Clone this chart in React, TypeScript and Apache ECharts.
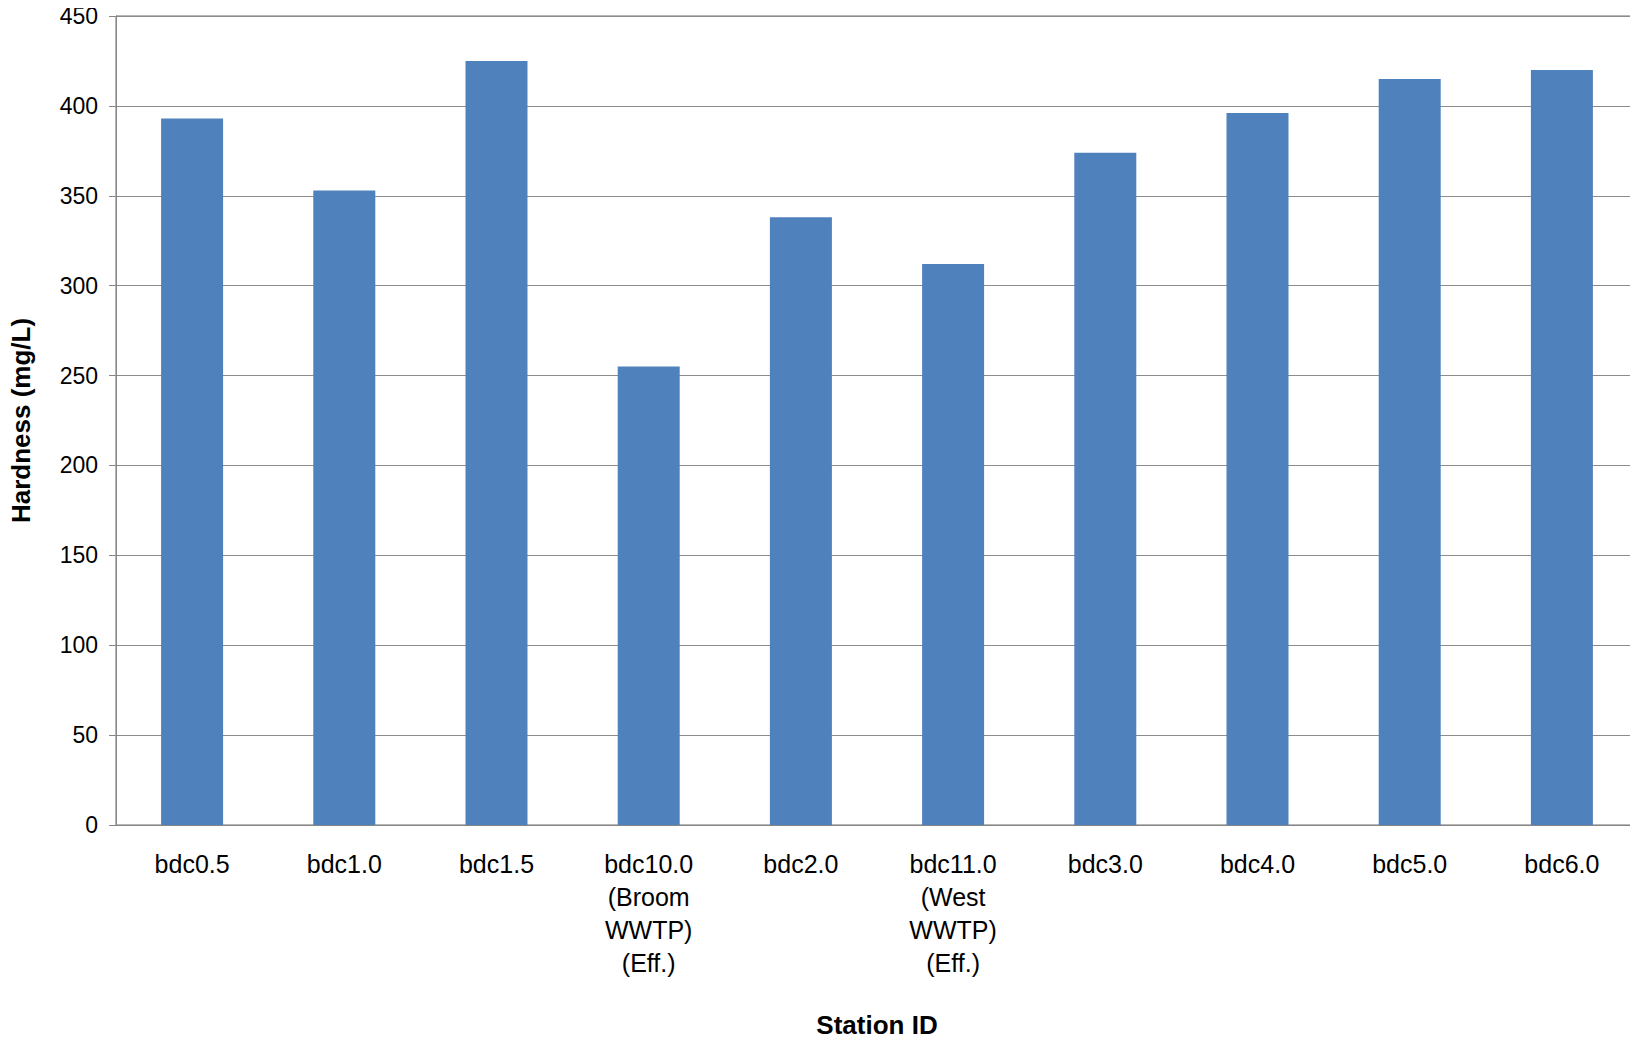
import { useEffect, useRef } from 'react';
import * as echarts from 'echarts';

const categories = [
  'bdc0.5',
  'bdc1.0',
  'bdc1.5',
  'bdc10.0\n(Broom\nWWTP)\n(Eff.)',
  'bdc2.0',
  'bdc11.0\n(West\nWWTP)\n(Eff.)',
  'bdc3.0',
  'bdc4.0',
  'bdc5.0',
  'bdc6.0',
];
const hardness = [393, 353, 425, 255, 338, 312, 374, 396, 415, 420];

export default function App() {
  const chartRef = useRef<HTMLDivElement>(null);

  useEffect(() => {
    if (!chartRef.current) return;
    const chart = echarts.init(chartRef.current, undefined, { renderer: 'svg' });
    chart.setOption({
      animation: false,
      textStyle: { fontFamily: 'Liberation Sans, Arial, sans-serif' },
      grid: {
        left: 108, top: 16, width: 1562, height: 816,
        show: true, borderColor: '#6e6e6e', borderWidth: 1,
      },
      xAxis: {
        type: 'category',
        data: categories,
        name: 'Station ID',
        nameLocation: 'middle',
        nameGap: 187,
        nameTextStyle: { fontSize: 26, fontWeight: 'bold', color: '#000' },
        axisLine: { lineStyle: { color: '#868686' } },
        axisTick: { length: 7, lineStyle: { color: '#868686' } },
        axisLabel: { fontSize: 25, color: '#000', margin: 22, lineHeight: 33, interval: 0 },
      },
      yAxis: {
        type: 'value',
        min: 0,
        max: 450,
        interval: 50,
        name: 'Hardness (mg/L)',
        nameLocation: 'middle',
        nameGap: 82,
        nameTextStyle: { fontSize: 26, fontWeight: 'bold', color: '#000' },
        axisLine: { show: true, lineStyle: { color: '#868686' } },
        axisTick: { show: true, length: 7, lineStyle: { color: '#868686' } },
        axisLabel: { fontSize: 23, color: '#000', margin: 18 },
        splitLine: { lineStyle: { color: '#8c8c8c', width: 1 } },
      },
      series: [
        {
          type: 'bar',
          data: hardness,
          barWidth: 62,
          itemStyle: { color: '#4f81bd' },
        },
      ],
    });
    return () => chart.dispose();
  }, []);

  return <div ref={chartRef} style={{ width: 1638, height: 1043, margin: -8 }} />;
}
